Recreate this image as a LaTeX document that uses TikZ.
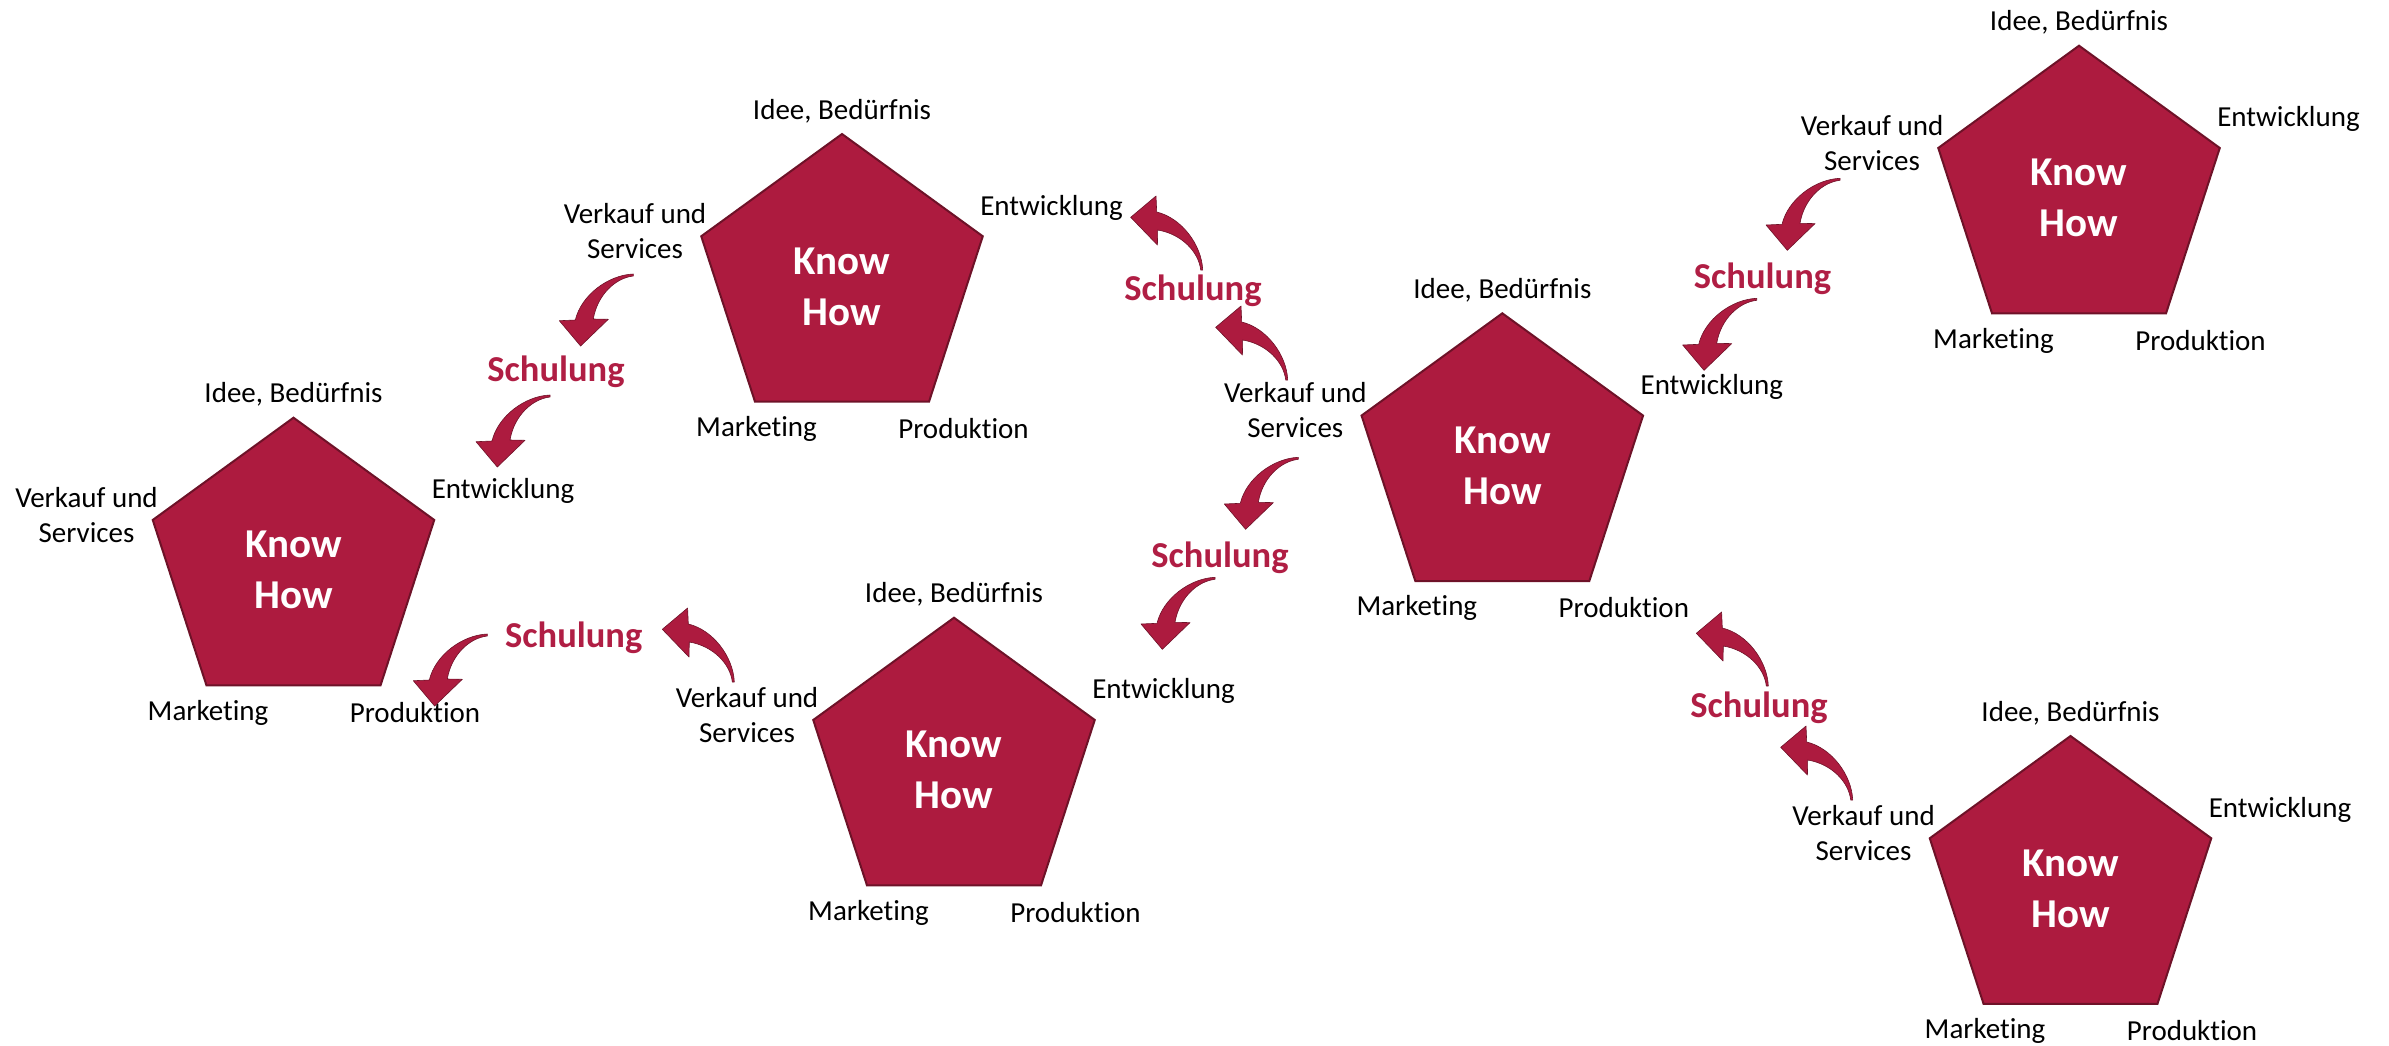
\documentclass[tikz,border=0pt]{standalone}
\usepackage{fontspec}
\setmainfont{Carlito}[Ligatures=NoCommon]
\usetikzlibrary{shapes.geometric}
\definecolor{crim}{RGB}{173,27,63}
\definecolor{crimdark}{RGB}{110,18,40}
\definecolor{schul}{RGB}{176,30,68}
\tikzset{
  penta/.style={regular polygon, regular polygon sides=5, minimum size=296pt,
    inner sep=0pt, fill=crim, draw=crimdark, line width=2pt},
  khtext/.style={text=white, inner sep=0pt,
    font=\bfseries\fontsize{41}{51}\selectfont, align=center},
  lab/.style={font=\fontsize{29}{35}\selectfont, inner sep=0pt, text=black},
  schulung/.style={font=\bfseries\fontsize{36.5}{44}\selectfont, text=schul,
    inner sep=0pt, anchor=base},
  curvarrow/.pic={
    \path[fill=crim, draw=crimdark, line width=0.6pt, line join=round]
      (1,0) .. controls (0,-25) and (-20,-52) .. (-45,-58)
      -- (-45.7,-74) -- (-71,-52.7) -- (-44.3,-25) -- (-44,-40)
      .. controls (-20,-36) and (-3,-18) .. (-1,0) -- cycle;
  }
}
\newcommand\knowhow[3]{%
  \begin{scope}[shift={(#2,#3)}]
    \node[penta] (#1) at (0,148) {};
    \node[khtext] (#1-t) at (0,152.5) {Know\\How};
    \node[lab, anchor=base] (#1-i) at (0,-15) {Idee, Bedürfnis};
    \node[lab, anchor=base] (#1-e) at (209.5,81) {Entwicklung};
    \node[lab, align=center] (#1-v) at (-207,97) {Verkauf und\\Services};
    \node[lab, anchor=base] (#1-m) at (-85.5,302.5) {Marketing};
    \node[lab, anchor=base] (#1-p) at (121.5,304.5) {Produktion};
  \end{scope}}
\begin{document}
\begin{tikzpicture}[x=1pt,y=-1pt]
  \useasboundingbox (0,0) rectangle (2389,1045);
  \knowhow{p1}{842}{134}
  \knowhow{p2}{293.5}{417.7}
  \knowhow{p3}{954}{617.7}
  \knowhow{p4}{1502.3}{313.3}
  \knowhow{p5}{2079}{45.7}
  \knowhow{p6}{2070.5}{736}
  % Schulung labels
  \node[schulung] (s1) at (556,381) {Schulung};
  \node[schulung] (s2) at (1193,300) {Schulung};
  \node[schulung] (s3) at (1220,567) {Schulung};
  \node[schulung] (s4) at (573.7,647) {Schulung};
  \node[schulung] (s5) at (1762.5,288.7) {Schulung};
  \node[schulung] (s6) at (1759,717) {Schulung};
  % downward curved arrows
  \pic[rotate=90] (a1) at (633.3,275) {curvarrow};
  \pic[rotate=90] (a2) at (550,396) {curvarrow};
  \pic[rotate=90] (a3) at (1298.3,458.3) {curvarrow};
  \pic[rotate=90] (a4) at (1215,578.3) {curvarrow};
  \pic[rotate=90] (a5) at (487.3,635) {curvarrow};
  \pic[rotate=90] (a6) at (1840,179.3) {curvarrow};
  \pic[rotate=90] (a7) at (1756.7,299.3) {curvarrow};
  % upward curved arrows
  \pic (b1) at (1201.7,270) {curvarrow};
  \pic (b2) at (1286.7,380) {curvarrow};
  \pic (b3) at (733.3,682) {curvarrow};
  \pic (b4) at (1767.3,686) {curvarrow};
  \pic (b5) at (1851.7,800) {curvarrow};
\end{tikzpicture}
\end{document}
